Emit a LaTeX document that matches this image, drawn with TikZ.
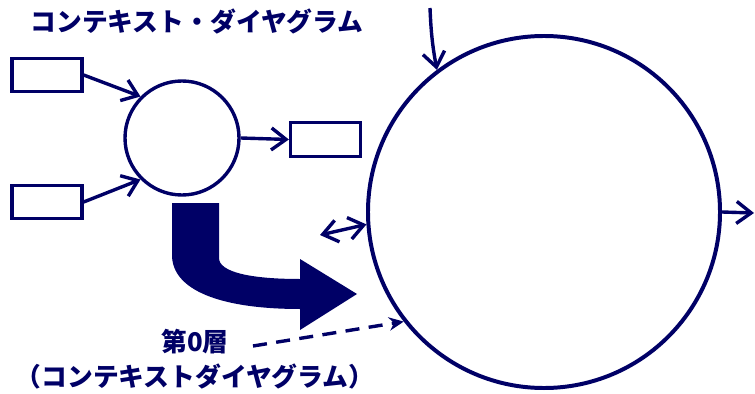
\documentclass[tikz,border=0pt]{standalone}
\usepackage{fontspec}
\setmainfont{Noto Sans CJK JP}
\usetikzlibrary{arrows.meta, positioning}
\definecolor{cnavy}{HTML}{000066}
\tikzset{
  every picture/.style={x=0.03cm, y=-0.03cm, line width=2.8pt},
  extbox/.style={draw=cnavy, line width=2.8pt, minimum width=2.1cm, minimum height=1cm, inner sep=0pt},
  proc/.style={circle, draw=cnavy, inner sep=0pt, minimum size=#1},
  flow/.style={-{Straight Barb[length=4.4mm, width=6.6mm]}, draw=cnavy, line width=2.9pt},
  jtext/.style={font=\fontsize{22}{26}\selectfont\bfseries, text=cnavy, inner sep=0pt},
}

\begin{document}
\begin{tikzpicture}
  \useasboundingbox (0,0) rectangle (755,394);
  \node[jtext] (title) at (197,22) {コンテキスト・ダイヤグラム};
  \node[extbox] (in1) at (47,75) {};
  \node[extbox] (in2) at (47,202) {};
  \node[extbox] (out1) at (325.5,139.5) {};
  \node[proc=3.42cm, line width=2.9pt] (ctx) at (182,138) {};
  \node[proc=10.56cm, line width=3.4pt] (sys) at (544,212) {};
  \coordinate (topin) at (430,8);
  \coordinate (leftio) at (320,235);
  \coordinate (rightout) at (754,213);
  \coordinate (noteend) at (253,346);
  \draw[flow] (in1.east) -- (ctx.135);
  \draw[flow] (in2.east) -- (ctx.225);
  \draw[flow] (ctx.east) -- (out1.west);
  \draw[flow] (topin) to[bend right=4] (sys.127);
  \draw[flow, {Straight Barb[length=4.4mm, width=6.6mm]}-{Straight Barb[length=4.4mm, width=6.6mm]}] (leftio) -- (sys.184);
  \draw[flow] (sys.east) -- (rightout);
  \draw[flow, dash pattern=on 12pt off 8pt, -{Stealth[length=4.4mm, width=4mm]}] (noteend) -- (sys.218);
  \fill[cnavy] (172,203) -- (219,203) -- (219,258)
    .. controls (219,272) and (250,279) .. (300,279) -- (300,259) -- (357,294)
    -- (300,330) -- (300,309) .. controls (220,309) and (172,290) .. (172,255) -- cycle;
  \node[jtext] (layer) at (195,342) {第0層};
  \node[jtext] (layersub) at (195,377) {（コンテキストダイヤグラム）};
\end{tikzpicture}
\end{document}
